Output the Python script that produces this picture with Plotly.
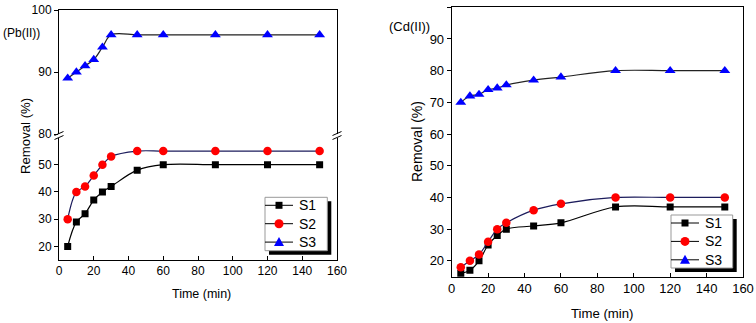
import plotly.graph_objects as go

# ---- data ----
time_min = [5, 10, 15, 20, 25, 30, 45, 60, 90, 120, 150]
series_names = ["S1", "S2", "S3"]
pb_s1 = [20, 29, 32, 37, 40, 42, 48, 50, 50, 50, 50]
pb_s2 = [30, 40, 42, 46, 50, 53, 55, 55, 55, 55, 55]
pb_s3 = [89, 90, 91, 92, 94, 96, 96, 96, 96, 96, 96]
cd_s1 = [16, 17, 20, 25, 28, 30, 31, 32, 37, 37, 37]
cd_s2 = [18, 20, 22, 26, 30, 32, 36, 38, 40, 40, 40]
cd_s3 = [70, 72, 72.5, 74, 74.5, 75.5, 77, 78, 80, 80, 80]
x_ticks = [0, 20, 40, 60, 80, 100, 120, 140, 160]
pb_upper_ticks = [80, 90, 100]
pb_lower_ticks = [20, 30, 40, 50]
cd_ticks = [20, 30, 40, 50, 60, 70, 80, 90, 100]

W, H = 756, 323
FONT = "Liberation Sans, Arial, sans-serif"

def px(x):
    return x / W

def py(y):
    return 1 - y / H

styles = {
    "S1": dict(symbol="square", size=7, color="#000000", line="#000000"),
    "S2": dict(symbol="circle", size=8.5, color="#ff0000", line="#1c1c5c"),
    "S3": dict(symbol="triangle-up", size=9.5, color="#0000ff", line="#222222"),
}

fig = go.Figure()

def add(name, y, xa, ya):
    s = styles[name]
    fig.add_trace(go.Scatter(
        x=time_min, y=y, name=name, mode="lines+markers",
        xaxis=xa, yaxis=ya, showlegend=False,
        line=dict(color=s["line"], width=1.2, shape="spline", smoothing=1.0),
        marker=dict(symbol=s["symbol"], size=s["size"], color=s["color"],
                    line=dict(width=0)),
    ))

add("S1", pb_s1, "x", "y")
add("S2", pb_s2, "x", "y")
add("S3", pb_s3, "x2", "y2")
add("S1", cd_s1, "x3", "y3")
add("S2", cd_s2, "x3", "y3")
add("S3", cd_s3, "x3", "y3")

def tf(size):
    return dict(family=FONT, size=size, color="#000")

def common_x(fs):
    return dict(range=[0, 160], tickvals=x_ticks, ticks="inside", ticklen=4,
                showline=True, linecolor="#000", linewidth=1, showgrid=False,
                zeroline=False, tickfont=tf(fs), automargin=False, tickcolor="#000")

def common_y(fs):
    return dict(ticks="outside", ticklen=4, showline=True, linecolor="#000",
                linewidth=1, showgrid=False, zeroline=False, tickfont=tf(fs),
                automargin=False, mirror=True, tickcolor="#000")

left_dom = [px(59), px(337)]
right_dom = [px(451.7), px(743)]

fig.update_layout(
    width=W, height=H,
    margin=dict(l=0, r=0, t=0, b=0),
    paper_bgcolor="white", plot_bgcolor="rgba(0,0,0,0)",
    showlegend=False,
    xaxis=dict(domain=left_dom, anchor="y", **common_x(12)),
    yaxis=dict(domain=[py(260), py(137.5)], range=[15, 60], tickvals=pb_lower_ticks,
               anchor="x", **common_y(12)),
    xaxis2=dict(domain=left_dom, anchor="y2", range=[0, 160], side="top",
                showline=True, linecolor="#000", linewidth=1, showticklabels=False,
                ticks="", showgrid=False, zeroline=False, automargin=False),
    yaxis2=dict(domain=[py(134), py(10)], range=[80, 100], tickvals=pb_upper_ticks,
                anchor="x2", **common_y(12)),
    xaxis3=dict(domain=right_dom, anchor="y3", mirror=True, **common_x(13)),
    yaxis3=dict(domain=[py(276.7), py(7.3)], range=[15, 100], tickvals=cd_ticks,
                anchor="x3", **common_y(13)),
)

annots = [
    dict(text="(Pb(II))", x=px(21), y=py(33), font=tf(12)),
    dict(text="(Cd(II))", x=px(409), y=py(27), font=tf(13)),
    dict(text="Time (min)", x=px(201), y=py(294), font=tf(12.5)),
    dict(text="Time (min)", x=px(602), y=py(313), font=tf(13.2)),
    dict(text="Removal (%)", x=px(25), y=py(136), textangle=-90, font=tf(13.2)),
    dict(text="Removal (%)", x=px(417), y=py(142), textangle=-90, font=tf(14)),
]
for a in annots:
    fig.add_annotation(xref="paper", yref="paper", showarrow=False,
                       xanchor="center", yanchor="middle", **a)

shapes = []

def pline(x0, y0, x1, y1, color="#000", width=1):
    shapes.append(dict(type="line", xref="paper", yref="paper",
                       x0=px(x0), y0=py(y0), x1=px(x1), y1=py(y1),
                       line=dict(color=color, width=width), layer="above"))

# axis-break slashes
for xb in (59, 337):
    for yb in (133.5, 137.5):
        pline(xb - 4.5, yb + 2, xb + 4.5, yb - 2)

# hand-built legends with drop shadow (box: x0, y0, x1, y1 in pixels)
legend_boxes = [(265, 197.3, 327.3, 250.7), (671, 215, 732.7, 268)]
for (bx0, by0, bx1, by1) in legend_boxes:
    shapes.append(dict(type="rect", xref="paper", yref="paper",
                       x0=px(bx0 + 4), y0=py(by1 + 4), x1=px(bx1 + 4), y1=py(by0 + 4),
                       fillcolor="#000", line=dict(width=0), layer="above"))
    shapes.append(dict(type="rect", xref="paper", yref="paper",
                       x0=px(bx0), y0=py(by1), x1=px(bx1), y1=py(by0),
                       fillcolor="#fff", line=dict(color="#999", width=1), layer="above"))
    for i, name in enumerate(series_names):
        s = styles[name]
        cy = by0 + 8 + i * 18.4
        lx0, lx1 = bx0, bx0 + 28
        cx = (lx0 + lx1) / 2
        pline(lx0, cy, lx1, cy, color="#000", width=1)
        if s["symbol"] == "square":
            shapes.append(dict(type="rect", xref="paper", yref="paper",
                               x0=px(cx - 3.5), y0=py(cy + 3.5), x1=px(cx + 3.5), y1=py(cy - 3.5),
                               fillcolor=s["color"], line=dict(width=0), layer="above"))
        elif s["symbol"] == "circle":
            shapes.append(dict(type="circle", xref="paper", yref="paper",
                               x0=px(cx - 4.5), y0=py(cy + 4.5), x1=px(cx + 4.5), y1=py(cy - 4.5),
                               fillcolor=s["color"], line=dict(width=0), layer="above"))
        else:
            path = "M {:.5f} {:.5f} L {:.5f} {:.5f} L {:.5f} {:.5f} Z".format(
                px(cx - 5), py(cy + 4), px(cx + 5), py(cy + 4), px(cx), py(cy - 5))
            shapes.append(dict(type="path", xref="paper", yref="paper", path=path,
                               fillcolor=s["color"], line=dict(width=0), layer="above"))
        fig.add_annotation(xref="paper", yref="paper", showarrow=False,
                           x=px(lx1 + 4), y=py(cy), xanchor="left", yanchor="middle",
                           text=name, font=tf(14))

fig.update_layout(shapes=shapes)

fig.write_html("out.html")
